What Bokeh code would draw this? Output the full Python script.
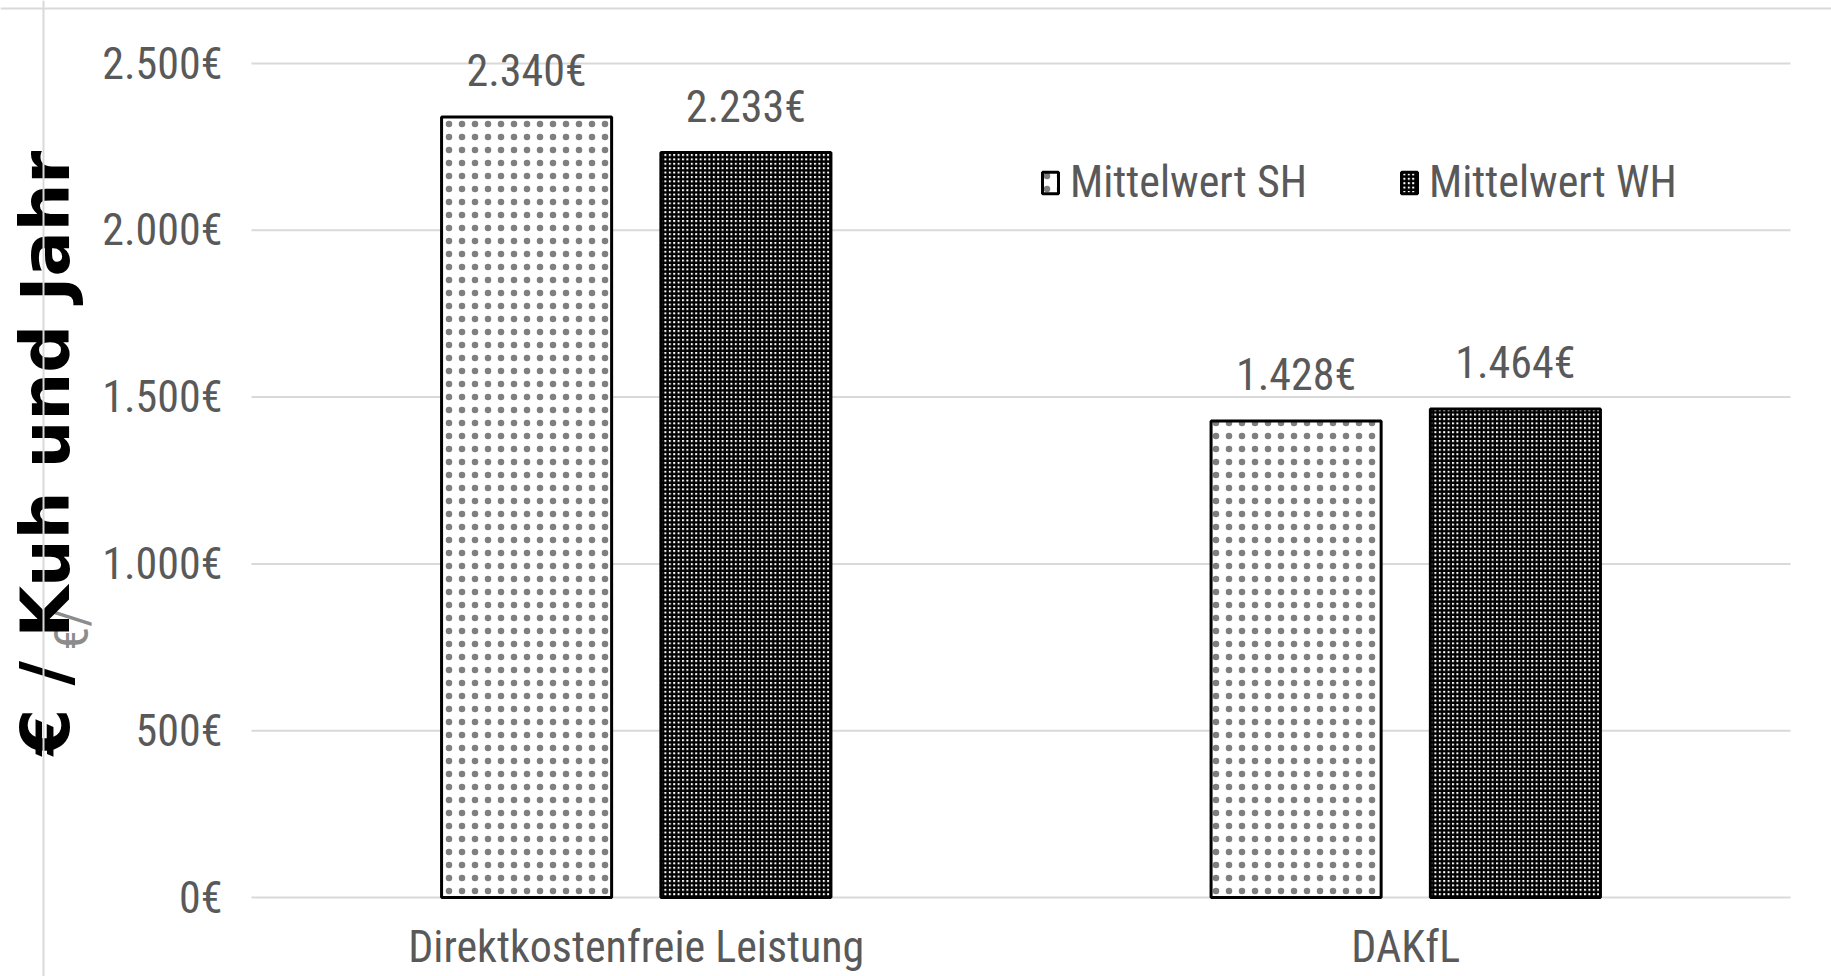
import math

from bokeh.core.properties import value
from bokeh.embed import file_html
from bokeh.models import ColumnDataSource, Legend, LegendItem, Range1d, Span
from bokeh.plotting import figure
from bokeh.resources import INLINE

# ---- data -------------------------------------------------------------
categories = ["Direktkostenfreie Leistung", "DAKfL"]
series_names = ["Mittelwert SH", "Mittelwert WH"]
sh_values = [2340, 1428]
wh_values = [2233, 1464]
y_ticks = [0, 500, 1000, 1500, 2000, 2500]
y_title = "€ / Kuh und Jahr"
y_title_small = "€/"


def euro(v):
    return f"{v:,}".replace(",", ".") + "€"


# ---- geometry (pixels) -------------------------------------------------
fig_w, fig_h = 1831, 976
band_left, band_right = 251, 1790     # horizontal extent of the category band
zero_px, top_tick_px = 897, 63        # screen rows of the first and last tick
border_x, border_y = 43, 8            # outer chart border

ux = len(categories) / (band_right - band_left)   # data units per pixel (x)
uy = y_ticks[-1] / (zero_px - top_tick_px)        # data units per pixel (y)

x_range = Range1d(-band_left * ux, (fig_w - band_left) * ux)
y_range = Range1d(-(fig_h - zero_px) * uy, zero_px * uy)

NARROW = ("Liberation Sans Narrow, Arial Narrow, Roboto Condensed, "
          "Open Sans Condensed, DejaVu Sans Condensed, Liberation Sans")
GREY_TEXT = "#595959"
GRID = "#d9d9d9"
FS = "44px"

p = figure(
    width=fig_w, height=fig_h,
    x_range=x_range, y_range=y_range,
    x_axis_location=None, y_axis_location=None,
    title=None, toolbar_location=None, output_backend="svg",
    min_border=0,
)
p.grid.visible = False
p.outline_line_color = None
p.background_fill_color = "white"
p.border_fill_color = "white"

# outer chart border (left and top edges)
p.add_layout(Span(location=(border_x - band_left) * ux, dimension="height",
                  line_color=GRID, line_width=2))
p.add_layout(Span(location=(zero_px - border_y) * uy, dimension="width",
                  line_color=GRID, line_width=2))

# horizontal gridlines across the category band
p.segment(x0=0, x1=len(categories), y0=y_ticks, y1=y_ticks,
          line_color=GRID, line_width=2)

# y tick labels
p.text(x=0, y=y_ticks, text=[euro(t) for t in y_ticks],
       x_offset=-29, text_align="right", text_baseline="middle",
       text_font=value(NARROW), text_font_size=FS, text_color=GREY_TEXT)

# ---- bars ---------------------------------------------------------------
centers = [i + 0.5 for i in range(len(categories))]
offset, bar_w = 0.1425, 0.221
src = ColumnDataSource(dict(
    cat=categories,
    xc=centers,
    x_sh=[c - offset for c in centers],
    x_wh=[c + offset for c in centers],
    sh=sh_values,
    wh=wh_values,
    sh_lbl=[euro(v) for v in sh_values],
    wh_lbl=[euro(v) for v in wh_values],
))

# SH: sparse light dots on white; WH: fine dark screen
r_sh = p.vbar(x="x_sh", top="sh", bottom=0, width=bar_w, source=src,
              fill_color="white", line_color="black", line_width=3,
              hatch_pattern="dot", hatch_color="black",
              hatch_scale=13, hatch_weight=0.5, hatch_alpha=0.5)
r_wh = p.vbar(x="x_wh", top="wh", bottom=0, width=bar_w, source=src,
              fill_color="white", line_color="black", line_width=3,
              hatch_pattern="cross", hatch_color="black",
              hatch_scale=4.4, hatch_weight=2.4)

# value labels above the bars
label_style = dict(text_align="center", text_baseline="middle",
                   text_font=value(NARROW), text_font_size=FS,
                   text_color=GREY_TEXT, y_offset=-46)
p.text(x="x_sh", y="sh", text="sh_lbl", source=src, **label_style)
p.text(x="x_wh", y="wh", text="wh_lbl", source=src, **label_style)

# category labels under the band
p.text(x="xc", y=0, text="cat", source=src, y_offset=49,
       text_align="center", text_baseline="middle",
       text_font=value(NARROW), text_font_size=FS, text_color=GREY_TEXT)

# ---- y axis titles ------------------------------------------------------
p.text(x=[0], y=[0], text=[y_title_small], x_offset=71 - band_left,
       y_offset=650 - zero_px, angle=math.pi / 2,
       text_align="left", text_baseline="middle",
       text_font=value(NARROW), text_font_size="48px", text_color="#8c8c8c")
p.text(x=[0], y=[(zero_px - (zero_px + border_y) / 2) * uy], text=[y_title],
       x_offset=45 - band_left, angle=math.pi / 2,
       text_align="center", text_baseline="middle",
       text_font=value("DejaVu Sans"), text_font_style="bold",
       text_font_size="67px", text_color="black")

# ---- legend -------------------------------------------------------------
legend_style = dict(
    orientation="horizontal", padding=0, margin=0, spacing=0,
    border_line_color=None, background_fill_alpha=0,
    glyph_width=20, glyph_height=27, label_standoff=10,
    label_text_font=NARROW, label_text_font_size=FS,
    label_text_color=GREY_TEXT,
)
for name, rend, gx in zip(series_names, [r_sh, r_wh], [1040, 1399]):
    leg = Legend(items=[LegendItem(label=name, renderers=[rend])],
                 location=(gx, 768), **legend_style)
    p.add_layout(leg)

open("out.html", "w").write(file_html(p, INLINE))
